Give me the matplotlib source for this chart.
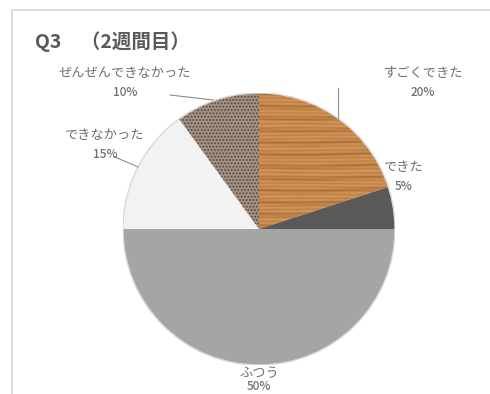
import matplotlib
matplotlib.use("Agg")
import matplotlib.pyplot as plt
from matplotlib.lines import Line2D
import numpy as np

plt.rcParams['font.family'] = ['Noto Sans CJK JP', 'DejaVu Sans']

title = "Q3　（2週間目）"
labels = ["すごくできた", "できた", "ふつう", "できなかった", "ぜんぜんできなかった"]
values = [20, 5, 50, 15, 10]
colors = ["#c98a4e", "#595959", "#a5a5a5", "#f2f2f2", "#a39282"]
hatches = [None, None, None, None, "....."]
hatch_colors = [None, None, None, None, "#54483f"]
# label positions in pixels (x, y of name, y of percent)
label_pos = [(423, 73, 93), (404, 168, 187), (259, 374, 387), (105, 135, 155), (125, 73, 93)]

W, H = 490, 394
fig = plt.figure(figsize=(W / 100, H / 100), dpi=100)
fig.patch.set_facecolor("white")

cx, cy, r = 259, 229, 136
ax = fig.add_axes([(cx - r) / W, (H - cy - r) / H, 2 * r / W, 2 * r / H])

plt.rcParams['hatch.linewidth'] = 0.9
wedges, _ = ax.pie(values, colors=colors, startangle=90, counterclock=False,
                   radius=1, wedgeprops=dict(linewidth=0))
for w, h, hc in zip(wedges, hatches, hatch_colors):
    if h:
        w.set_hatch(h)
        w.set_edgecolor(hc)
        w.set_linewidth(0)

# wood-grain texture for the first wedge (decorative fill)
yy, xx = np.mgrid[-1:1:600j, -1:1:600j]
phase = yy * 230 + 0.8 * np.sin(xx * 4 + yy * 13) + 0.5 * np.sin(yy * 37)
grain = (0.5 + 0.5 * np.sin(phase)) ** 6
grain2 = (0.5 + 0.5 * np.sin(yy * 71 + 0.6 * np.sin(xx * 5))) ** 4
g = np.clip(0.55 * grain + 0.35 * grain2, 0, 1)
base = np.array([0.82, 0.58, 0.34])
dark = np.array([0.58, 0.35, 0.15])
img = base[None, None, :] * (1 - g[..., None]) + dark[None, None, :] * g[..., None]
im = ax.imshow(img, extent=(-1, 1, -1, 1), origin="lower", zorder=2, interpolation="bilinear")
im.set_clip_path(wedges[0])

circ = plt.Circle((0, 0), 1.0, fill=False, edgecolor="#d9d9d9", linewidth=1.0, zorder=3)
ax.add_patch(circ)
ax.set_xlim(-1, 1)
ax.set_ylim(-1, 1)
ax.set_aspect("equal")
ax.axis("off")

# frame
fig.add_artist(Line2D([12 / W, 1], [1 - 10 / H, 1 - 10 / H], color="#d6d6d6", lw=1.2))
fig.add_artist(Line2D([12 / W, 12 / W], [0, 1 - 10 / H], color="#d6d6d6", lw=1.2))

fig.text(35 / W, 1 - 42 / H, title, fontsize=14, fontweight="bold",
         color="#595959", ha="left", va="center")

for lab, v, (x, y, yp) in zip(labels, values, label_pos):
    fig.text(x / W, 1 - y / H, lab, fontsize=9.5, color="#6f6f6f", ha="center", va="center")
    fig.text(x / W, 1 - yp / H, f"{v}%", fontsize=8.5, color="#6f6f6f",
             ha="center", va="center", fontweight="medium")

def px_line(x0, y0, x1, y1):
    fig.add_artist(Line2D([x0 / W, x1 / W], [1 - y0 / H, 1 - y1 / H], color="#8c8c8c", lw=0.8))

px_line(170, 95, 213, 100)
px_line(338, 88, 338, 118)
px_line(115, 157, 138, 167)

fig.savefig("out.png", dpi=100, facecolor="white")
